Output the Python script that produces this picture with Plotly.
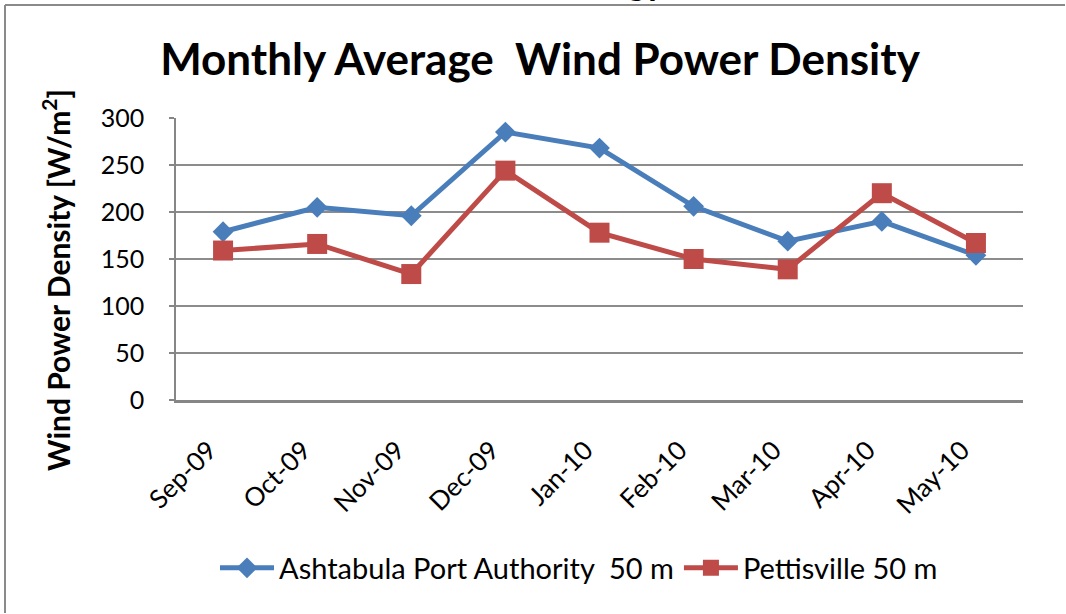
import plotly.graph_objects as go

months = ["Sep-09", "Oct-09", "Nov-09", "Dec-09", "Jan-10", "Feb-10", "Mar-10", "Apr-10", "May-10"]
ashtabula = [179, 205, 196, 285, 268, 206, 169, 190, 154]
pettisville = [159, 166, 134, 244, 178, 150, 139, 220, 167]
y_ticks = [0, 50, 100, 150, 200, 250, 300]

W, H = 1066, 614
L, R, T, B = 176, 43, 118, 214
pw, ph = W - L - R, H - T - B

def px(x):
    return (x - L) / pw

def py(y):
    return (H - B - y) / ph

FONT = "Lato"

fig = go.Figure()
fig.add_trace(go.Scatter(
    x=months, y=ashtabula, mode="lines+markers",
    name="Ashtabula Port Authority  50 m",
    line=dict(color="#4a7ebb", width=5),
    marker=dict(symbol="diamond", size=16, color="#4a7ebb"),
))
fig.add_trace(go.Scatter(
    x=months, y=pettisville, mode="lines+markers",
    name="Pettisville 50 m",
    line=dict(color="#be4b48", width=5),
    marker=dict(symbol="square", size=20, color="#be4b48"),
))

fig.update_layout(
    width=W, height=H,
    margin=dict(l=L, r=R, t=T, b=B),
    paper_bgcolor="white", plot_bgcolor="white",
    font=dict(family=FONT, color="black", size=21),
    title=dict(text="<b>Monthly Average  Wind Power Density</b>",
               x=540 / W, xref="container", xanchor="center",
               y=1 - 60 / H, yref="container", yanchor="middle",
               font=dict(size=44, family=FONT, color="black")),
    showlegend=True,
    legend=dict(orientation="h", x=579 / W, xref="container", xanchor="center",
                y=1 - 568 / H, yref="container", yanchor="middle",
                font=dict(size=29, family=FONT), itemwidth=54,
                bgcolor="rgba(0,0,0,0)"),
    xaxis=dict(type="category", range=[-0.5, 8.5], tickangle=-45,
               showline=True, linecolor="#868686", linewidth=2.5,
               showgrid=False, ticks="", tickfont=dict(size=26, family=FONT),
               ticklabelstandoff=22, ticklabelshift=-14),
    yaxis=dict(range=[0, 300], tickvals=y_ticks, showline=True,
               linecolor="#868686", linewidth=1.5, showgrid=True,
               gridcolor="#8c8c8c", gridwidth=1.5, ticks="outside", ticklen=5,
               tickcolor="#868686", tickwidth=1.5, zeroline=False,
               tickfont=dict(size=25, family=FONT), ticklabelstandoff=20),
    annotations=[
        dict(text="<b>Wind Power Density [W/m<sup>2</sup>]</b>", textangle=-90,
             xref="paper", yref="paper", x=px(56), y=py(280),
             xanchor="center", yanchor="middle", showarrow=False,
             font=dict(size=30, family=FONT, color="black")),
        dict(text="<b>gy</b>", xref="paper", yref="paper", x=px(646), y=py(5),
             xanchor="center", yanchor="bottom", showarrow=False,
             font=dict(size=36, family=FONT, color="black")),
    ],
    shapes=[
        dict(type="line", xref="paper", yref="paper",
             x0=px(5), x1=px(W - 1), y0=py(5), y1=py(5),
             line=dict(color="#8a8a8a", width=2)),
        dict(type="line", xref="paper", yref="paper",
             x0=px(5), x1=px(5), y0=py(5), y1=py(H - 1),
             line=dict(color="#8a8a8a", width=2)),
    ],
)

fig.write_html(
    "out.html", config={"displayModeBar": False},
    post_script=("document.documentElement.style.overflow='hidden';"
                 "document.body.style.margin='0';document.body.style.overflow='hidden';"),
)
